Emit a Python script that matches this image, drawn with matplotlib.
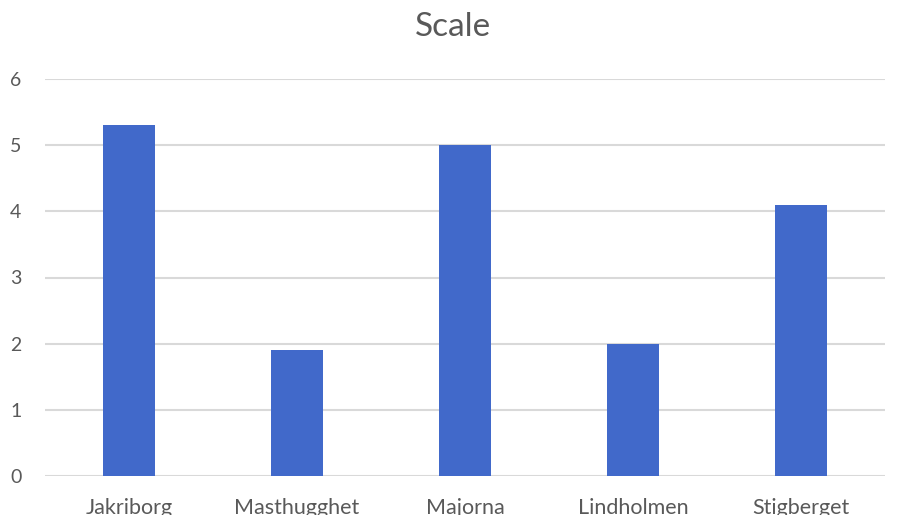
import matplotlib.pyplot as plt

areas = ["Jakriborg", "Masthugghet", "Majorna", "Lindholmen", "Stigberget"]
scale = [5.3, 1.9, 5.0, 2.0, 4.1]
yticks = [0, 1, 2, 3, 4, 5, 6]

plt.rcParams['font.family'] = ['Lato', 'DejaVu Sans']
txt = '#595959'

fig = plt.figure(figsize=(8.97, 5.15), dpi=100)
ax = fig.add_axes([45 / 897, 39 / 515, 840 / 897, 397 / 515])

ax.bar(range(len(areas)), scale, width=0.31, color='#4169CA', zorder=3)

ax.set_xlim(-0.5, len(areas) - 0.5)
ax.set_ylim(0, 6)
ax.set_yticks(yticks)
ax.set_xticks(range(len(areas)))
ax.set_xticklabels(areas)
ax.grid(axis='y', color='#d9d9d9', linewidth=1.5, zorder=0)
ax.set_axisbelow(True)
for s in ax.spines.values():
    s.set_visible(False)
ax.tick_params(axis='y', length=0, labelsize=14, colors=txt, pad=25)
ax.tick_params(axis='x', length=0, labelsize=15.5, colors=txt, pad=16)
for lbl in ax.get_yticklabels():
    lbl.set_horizontalalignment('left')

fig.text(453 / 897, 1 - 27 / 515, "Scale", ha='center', va='center', fontsize=24, color=txt)

fig.savefig("out.png", dpi=100)
